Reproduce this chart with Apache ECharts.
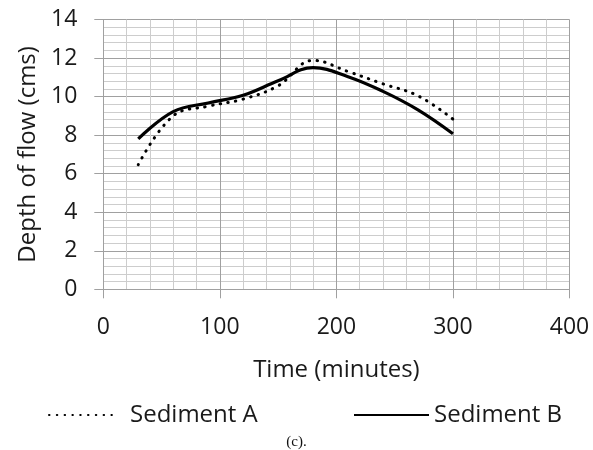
<!DOCTYPE html>
<html>
<head>
<meta charset="utf-8">
<script src="https://cdn.jsdelivr.net/npm/echarts@6/dist/echarts.min.js"></script>
<style>
  html, body { margin: 0; padding: 0; background: #fff; }
  #chart { width: 593px; height: 450px; }
</style>
</head>
<body>
<div id="chart"></div>
<script>
// Flow depth measurements over time for two sediment beds
var times = [30, 60, 90, 120, 150, 180, 210, 240, 270, 300];
var sedimentA = [6.47, 9.0, 9.5, 9.87, 10.56, 11.88, 11.3, 10.66, 10.04, 8.83];
var sedimentB = [7.8, 9.22, 9.67, 10.07, 10.82, 11.5, 11.03, 10.27, 9.31, 8.07];
var xTicks = [0, 100, 200, 300, 400];
var yTicks = [0, 2, 4, 6, 8, 10, 12, 14];

function pairs(xs, ys) {
  return xs.map(function (x, i) { return [x, ys[i]]; });
}

var font = '"Open Sans", "Noto Sans", sans-serif';
var textColor = '#1a1a1a';
var majorGrid = '#a0a0a0';
var minorGrid = '#cdcdcd';

var chart = echarts.init(document.getElementById('chart'), null, { renderer: 'canvas' });

// legend entries show the line only, without the default marker
var legendBase = {
  top: 403,
  padding: 0,
  itemHeight: 14,
  itemStyle: { opacity: 0 },
  textStyle: { fontFamily: font, fontSize: 24, color: textColor }
};

chart.setOption({
  backgroundColor: '#ffffff',
  animation: false,
  title: {
    text: '(c).',
    left: 'center',
    top: 430,
    textStyle: { fontFamily: '"Liberation Serif", serif', fontSize: 15, fontWeight: 'normal', color: '#111' }
  },
  grid: { left: 103.3, right: 23.5, top: 19.5, bottom: 160.7, containLabel: false },
  legend: [
    Object.assign({}, legendBase, {
      data: ['Sediment A'],
      left: 48,
      itemWidth: 68,
      textStyle: { fontFamily: font, fontSize: 24, color: textColor, padding: [0, 0, 0, 8] }
    }),
    Object.assign({}, legendBase, {
      data: ['Sediment B'],
      left: 353,
      itemWidth: 75
    })
  ],
  xAxis: {
    type: 'value',
    min: xTicks[0],
    max: xTicks[xTicks.length - 1],
    interval: 100,
    name: 'Time (minutes)',
    nameLocation: 'middle',
    nameGap: 69,
    nameTextStyle: { fontFamily: font, fontSize: 24, color: textColor },
    axisLine: { show: true, lineStyle: { color: majorGrid, width: 1 } },
    axisTick: { show: true, inside: false, length: 9, lineStyle: { color: majorGrid } },
    minorTick: { show: true, splitNumber: 5, length: 0, lineStyle: { color: 'rgba(0,0,0,0)' } },
    axisLabel: { fontFamily: font, fontSize: 23, color: textColor, margin: 27 },
    splitLine: { show: true, lineStyle: { color: majorGrid, width: 1 } },
    minorSplitLine: { show: true, lineStyle: { color: minorGrid, width: 1 } }
  },
  yAxis: {
    type: 'value',
    min: yTicks[0],
    max: yTicks[yTicks.length - 1],
    interval: 2,
    name: 'Depth of flow (cms)',
    nameLocation: 'middle',
    nameRotate: 90,
    nameGap: 62,
    nameTextStyle: { fontFamily: font, fontSize: 24, color: textColor },
    axisLine: { show: true, lineStyle: { color: majorGrid, width: 1 } },
    axisTick: { show: true, inside: false, length: 9, lineStyle: { color: majorGrid } },
    minorTick: { show: true, splitNumber: 5, length: 0, lineStyle: { color: 'rgba(0,0,0,0)' } },
    axisLabel: { fontFamily: font, fontSize: 23, color: textColor, margin: 26 },
    splitLine: { show: true, lineStyle: { color: majorGrid, width: 1 } },
    minorSplitLine: { show: true, lineStyle: { color: minorGrid, width: 1 } }
  },
  series: [
    {
      name: 'Sediment A',
      type: 'line',
      data: pairs(times, sedimentA),
      smooth: 0.4,
      symbol: 'none',
      color: '#000',
      lineStyle: { color: '#000', width: 3, type: [0.5, 7.3], cap: 'round' },
      z: 3
    },
    {
      name: 'Sediment B',
      type: 'line',
      data: pairs(times, sedimentB),
      smooth: 0.4,
      symbol: 'none',
      color: '#000',
      lineStyle: { color: '#000', width: 3.2, type: 'solid' },
      z: 4
    }
  ]
});
</script>
</body>
</html>
